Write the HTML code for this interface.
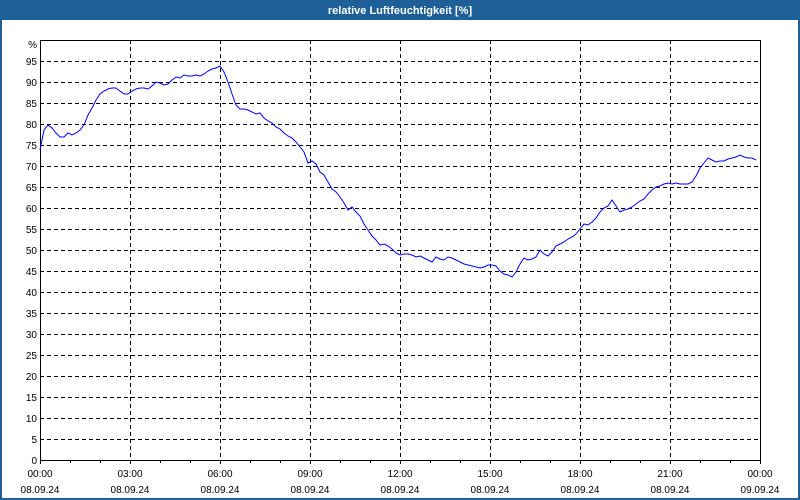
<!DOCTYPE html>
<html><head><meta charset="utf-8"><style>
html,body{margin:0;padding:0;width:800px;height:500px;overflow:hidden;background:#fff}
svg{display:block}
text{font-family:"Liberation Sans","DejaVu Sans",sans-serif;font-size:10px;fill:#000}
</style></head><body>
<svg width="800" height="500" viewBox="0 0 800 500" xmlns="http://www.w3.org/2000/svg">
<rect x="0" y="0" width="800" height="500" fill="#1d5f96"/>
<rect x="2" y="20" width="796" height="478" fill="#fff"/>
<text x="400" y="14" text-anchor="middle" style="font-size:11px;font-weight:bold;fill:#fff">relative Luftfeuchtigkeit [%]</text>
<g stroke="#000" stroke-width="1" stroke-dasharray="4,3" shape-rendering="crispEdges">
<line x1="40" x2="760" y1="61.5" y2="61.5"/><line x1="40" x2="760" y1="82.5" y2="82.5"/><line x1="40" x2="760" y1="103.5" y2="103.5"/><line x1="40" x2="760" y1="124.5" y2="124.5"/><line x1="40" x2="760" y1="145.5" y2="145.5"/><line x1="40" x2="760" y1="166.5" y2="166.5"/><line x1="40" x2="760" y1="187.5" y2="187.5"/><line x1="40" x2="760" y1="208.5" y2="208.5"/><line x1="40" x2="760" y1="229.5" y2="229.5"/><line x1="40" x2="760" y1="250.5" y2="250.5"/><line x1="40" x2="760" y1="271.5" y2="271.5"/><line x1="40" x2="760" y1="292.5" y2="292.5"/><line x1="40" x2="760" y1="313.5" y2="313.5"/><line x1="40" x2="760" y1="334.5" y2="334.5"/><line x1="40" x2="760" y1="355.5" y2="355.5"/><line x1="40" x2="760" y1="376.5" y2="376.5"/><line x1="40" x2="760" y1="397.5" y2="397.5"/><line x1="40" x2="760" y1="418.5" y2="418.5"/><line x1="40" x2="760" y1="439.5" y2="439.5"/>
<line x1="130.5" x2="130.5" y1="40" y2="460"/><line x1="220.5" x2="220.5" y1="40" y2="460"/><line x1="310.5" x2="310.5" y1="40" y2="460"/><line x1="400.5" x2="400.5" y1="40" y2="460"/><line x1="490.5" x2="490.5" y1="40" y2="460"/><line x1="580.5" x2="580.5" y1="40" y2="460"/><line x1="670.5" x2="670.5" y1="40" y2="460"/>
</g>
<rect x="40.5" y="40.5" width="720" height="420" fill="none" stroke="#000" shape-rendering="crispEdges"/>
<g stroke="#000" shape-rendering="crispEdges">
<line x1="40.5" x2="40.5" y1="460" y2="464"/><line x1="70.5" x2="70.5" y1="460" y2="463"/><line x1="100.5" x2="100.5" y1="460" y2="463"/><line x1="130.5" x2="130.5" y1="460" y2="464"/><line x1="160.5" x2="160.5" y1="460" y2="463"/><line x1="190.5" x2="190.5" y1="460" y2="463"/><line x1="220.5" x2="220.5" y1="460" y2="464"/><line x1="250.5" x2="250.5" y1="460" y2="463"/><line x1="280.5" x2="280.5" y1="460" y2="463"/><line x1="310.5" x2="310.5" y1="460" y2="464"/><line x1="340.5" x2="340.5" y1="460" y2="463"/><line x1="370.5" x2="370.5" y1="460" y2="463"/><line x1="400.5" x2="400.5" y1="460" y2="464"/><line x1="430.5" x2="430.5" y1="460" y2="463"/><line x1="460.5" x2="460.5" y1="460" y2="463"/><line x1="490.5" x2="490.5" y1="460" y2="464"/><line x1="520.5" x2="520.5" y1="460" y2="463"/><line x1="550.5" x2="550.5" y1="460" y2="463"/><line x1="580.5" x2="580.5" y1="460" y2="464"/><line x1="610.5" x2="610.5" y1="460" y2="463"/><line x1="640.5" x2="640.5" y1="460" y2="463"/><line x1="670.5" x2="670.5" y1="460" y2="464"/><line x1="700.5" x2="700.5" y1="460" y2="463"/><line x1="730.5" x2="730.5" y1="460" y2="463"/><line x1="760.5" x2="760.5" y1="460" y2="464"/>
</g>
<g text-anchor="end">
<text x="37" y="48">%</text><text x="37" y="65">95</text><text x="37" y="86">90</text><text x="37" y="107">85</text><text x="37" y="128">80</text><text x="37" y="149">75</text><text x="37" y="170">70</text><text x="37" y="191">65</text><text x="37" y="212">60</text><text x="37" y="233">55</text><text x="37" y="254">50</text><text x="37" y="275">45</text><text x="37" y="296">40</text><text x="37" y="317">35</text><text x="37" y="338">30</text><text x="37" y="359">25</text><text x="37" y="380">20</text><text x="37" y="401">15</text><text x="37" y="422">10</text><text x="37" y="443">5</text><text x="37" y="464">0</text>
</g>
<g text-anchor="middle">
<text x="40" y="477">00:00</text><text x="40" y="493">08.09.24</text>
<text x="130" y="477">03:00</text><text x="130" y="493">08.09.24</text>
<text x="220" y="477">06:00</text><text x="220" y="493">08.09.24</text>
<text x="310" y="477">09:00</text><text x="310" y="493">08.09.24</text>
<text x="400" y="477">12:00</text><text x="400" y="493">08.09.24</text>
<text x="490" y="477">15:00</text><text x="490" y="493">08.09.24</text>
<text x="580" y="477">18:00</text><text x="580" y="493">08.09.24</text>
<text x="670" y="477">21:00</text><text x="670" y="493">08.09.24</text>
<text x="760" y="477">00:00</text><text x="760" y="493">09.09.24</text>
</g>
<polyline fill="none" stroke="#0000ff" stroke-width="1" points="40,150 44,130 48,125 52,128 56,133 60,137 64,137 68,133 72,135 76,133 80,130 84,125 88,115 92,108 96,100 100,94 104,91 108,89 112,88 116,88 120,91 124,94 128,94 132,91 136,89 140,88 144,88 148,89 152,86 156,82 160,83 164,85 168,84 172,80 176,77 180,78 184,75 188,76 192,76 196,75 200,76 204,74 208,71 212,69 216,68 220,66 224,72 228,82 232,94 236,105 240,109 244,109 248,110 252,112 256,114 260,113 264,118 268,121 272,123 276,127 280,129 284,133 288,136 292,138 296,142 300,147 304,152 308,163 312,161 316,164 320,172 324,175 328,182 332,189 336,192 340,197 344,203 348,210 352,207 356,212 360,216 364,224 368,230 372,236 376,240 380,245 384,244 388,246 392,249 396,253 400,255 404,254 408,254 412,255 416,257 420,256 424,258 428,260 432,262 436,257 440,259 444,260 448,257 452,258 456,260 460,262 464,264 468,265 472,266 476,267 480,268 484,267 488,265 492,265 496,266 500,271 504,274 508,275 512,277 516,272 520,264 524,258 528,260 532,259 536,257 540,250 544,254 548,256 552,252 556,246 560,244 564,242 568,239 572,237 576,234 580,229 584,224 588,225 592,222 596,218 600,212 604,208 608,206 612,200 616,206 620,212 624,210 628,209 632,207 636,204 640,201 644,199 648,194 652,190 656,187 660,186 664,184 668,183 672,184 676,183 680,184 684,184 688,184 692,182 696,176 700,168 704,163 708,158 712,160 716,162 720,161 724,161 728,159 732,158 736,157 740,155 744,157 748,158 752,158 756,160"/>
</svg>
</body></html>
